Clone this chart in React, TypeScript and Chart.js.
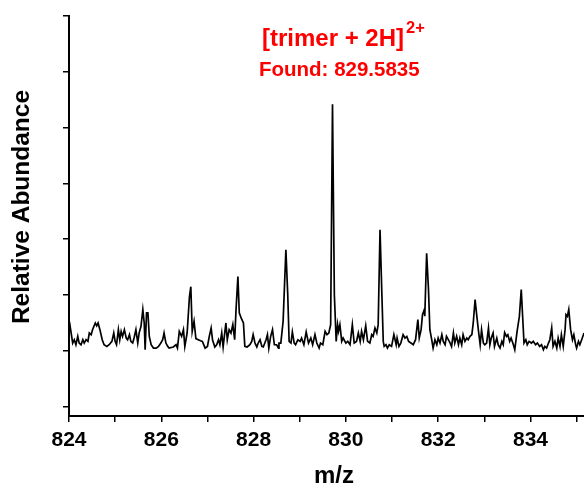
import React, { useEffect, useRef } from "react";
import { Chart, registerables } from "chart.js";

Chart.register(...registerables);

// m/z axis range and tick labels
const xMin = 824;
const xMax = 835.16;
const xTickValues = [824, 825, 826, 827, 828, 829, 830, 831, 832, 833, 834, 835];
const yTickValues = [-10, 0, 10, 20, 30, 40, 50, 60];
const yMin = -11.67;
const yMax = 60;

// spectrum trace (m/z)
const mzValues = [
  824.01, 824.08, 824.115, 824.15, 824.19, 824.22, 824.26, 824.30, 824.33, 824.37,
  824.41, 824.44, 824.48, 824.51, 824.57, 824.60, 824.63, 824.67, 824.72, 824.76,
  824.82, 824.87, 824.93, 824.97, 825.00, 825.03, 825.07, 825.10, 825.13, 825.16,
  825.20, 825.24, 825.27, 825.31, 825.34, 825.38, 825.41, 825.45, 825.49, 825.52,
  825.56, 825.60, 825.63, 825.65, 825.68, 825.71, 825.74, 825.78, 825.83, 825.89,
  825.94, 825.99, 826.03, 826.06, 826.10, 826.14, 826.17, 826.26, 826.32, 826.35,
  826.39, 826.44, 826.48, 826.51, 826.56, 826.61, 826.64, 826.67, 826.71, 826.75,
  826.80, 826.85, 826.89, 826.95, 827.00, 827.04, 827.08, 827.11, 827.16, 827.20,
  827.24, 827.27, 827.31, 827.34, 827.40, 827.43, 827.47, 827.51, 827.55, 827.59,
  827.62, 827.66, 827.69, 827.73, 827.78, 827.81, 827.86, 827.92, 827.96, 827.99,
  828.03, 828.07, 828.10, 828.14, 828.18, 828.21, 828.27, 828.30, 828.33, 828.37,
  828.41, 828.45, 828.50, 828.54, 828.55, 828.59, 828.64, 828.70, 828.74, 828.77,
  828.81, 828.84, 828.88, 828.91, 828.96, 829.01, 829.04, 829.09, 829.14, 829.19,
  829.24, 829.28, 829.33, 829.37, 829.42, 829.45, 829.50, 829.55, 829.59, 829.63,
  829.67, 829.71, 829.75, 829.79, 829.82, 829.84, 829.87, 829.91, 829.94, 830.00,
  830.04, 830.09, 830.14, 830.18, 830.23, 830.27, 830.31, 830.34, 830.38, 830.43,
  830.47, 830.52, 830.56, 830.59, 830.63, 830.67, 830.70, 830.74, 830.78, 830.81,
  830.83, 830.87, 830.90, 830.94, 830.99, 831.04, 831.09, 831.11, 831.15, 831.19,
  831.24, 831.28, 831.32, 831.36, 831.41, 831.46, 831.51, 831.56, 831.59, 831.63,
  831.66, 831.70, 831.71, 831.75, 831.79, 831.82, 831.86, 831.89, 831.93, 831.97,
  832.00, 832.04, 832.08, 832.11, 832.15, 832.18, 832.22, 832.26, 832.29, 832.33,
  832.36, 832.40, 832.44, 832.47, 832.51, 832.54, 832.58, 832.62, 832.65, 832.69,
  832.73, 832.76, 832.80, 832.83, 832.87, 832.91, 832.94, 832.98, 833.01, 833.05,
  833.09, 833.12, 833.15, 833.19, 833.22, 833.27, 833.30, 833.34, 833.38, 833.41,
  833.44, 833.48, 833.51, 833.55, 833.58, 833.63, 833.66, 833.71, 833.76, 833.80,
  833.83, 833.86, 833.90, 833.93, 833.97, 834.02, 834.06, 834.11, 834.15, 834.20,
  834.24, 834.28, 834.31, 834.35, 834.39, 834.42, 834.46, 834.49, 834.53, 834.57,
  834.60, 834.64, 834.67, 834.71, 834.75, 834.77, 834.80, 834.83, 834.87, 834.91,
  834.94, 834.98, 835.00, 835.04, 835.07, 835.11, 835.16, 835.20,
];

// spectrum trace (relative abundance)
const abundance = [
  5.2, 1.4, 2.0, 1.1, 2.6, 1.4, 1.1, 2.0, 1.4, 2.0,
  1.7, 3.2, 2.9, 3.8, 5.0, 4.5, 5.0, 3.8, 2.0, 1.1,
  0.8, 1.1, 1.7, 3.2, 1.7, 1.1, 3.8, 2.0, 3.5, 2.6,
  3.8, 2.3, 2.0, 2.9, 1.7, 1.4, 2.3, 3.8, 1.4, 3.2,
  4.4, 7.4, 5.0, 0.2, 6.8, 6.8, 2.6, 1.1, 0.5, 0.5,
  0.8, 1.4, 2.0, 3.2, 1.4, 0.8, 0.5, 0.7, 1.1, 0.5,
  3.5, 2.6, 3.8, 0.8, 3.2, 9.7, 11.5, 3.5, 5.3, 2.2,
  2.0, 1.8, 1.7, 0.5, 0.8, 2.6, 4.1, 2.0, 0.7, 1.1,
  2.0, 1.1, 3.2, 0.7, 5.0, 2.0, 3.8, 3.2, 4.7, 2.0,
  7.4, 13.3, 6.8, 5.9, 5.0, 0.8, 0.7, 1.1, 1.7, 2.9,
  1.4, 0.7, 1.4, 2.0, 0.8, 0.7, 2.0, 2.9, 0.5, 2.6,
  3.8, 1.1, 1.1, 0.5, 1.4, 1.4, 5.3, 18.1, 10.1, 1.7,
  1.4, 3.4, 1.4, 1.1, 2.0, 1.7, 2.3, 1.1, 3.4, 1.4,
  2.3, 1.1, 2.9, 1.4, 0.5, 1.4, 1.1, 3.5, 2.9, 3.2,
  4.7, 44.2, 10.1, 1.7, 4.7, 3.5, 4.7, 1.7, 2.3, 1.4,
  1.7, 1.1, 4.7, 1.4, 1.7, 3.2, 1.7, 3.5, 2.0, 4.5,
  1.7, 1.4, 2.9, 2.6, 4.1, 3.2, 4.7, 21.7, 10.1, 1.7,
  0.8, 1.1, 0.5, 1.1, 0.8, 2.9, 1.1, 2.3, 0.8, 1.4,
  2.9, 2.3, 2.6, 1.7, 1.4, 1.1, 2.0, 5.6, 2.3, 3.8,
  6.5, 7.4, 6.2, 17.5, 11.0, 3.8, 2.0, 0.5, 2.0, 1.1,
  2.3, 1.4, 2.9, 1.7, 1.1, 2.6, 2.0, 1.4, 0.8, 3.2,
  1.4, 2.6, 1.1, 2.3, 1.1, 2.9, 1.7, 2.3, 2.0, 2.6,
  2.9, 5.0, 9.2, 6.8, 3.8, 1.1, 3.8, 1.4, 1.1, 1.4,
  4.1, 1.1, 2.3, 3.2, 0.8, 2.3, 1.1, 0.5, 1.7, 1.1,
  3.3, 2.6, 2.9, 1.7, 2.3, 1.1, 0.2, 3.5, 6.2, 11.0,
  6.2, 1.4, 2.0, 1.1, 1.7, 1.4, 1.7, 1.1, 1.4, 0.8,
  1.1, 0.2, 0.8, 0.5, 1.4, 2.0, 4.1, 0.8, 1.7, 0.5,
  2.3, 0.8, 2.9, 0.8, 3.8, 6.5, 6.2, 7.4, 3.8, 2.0,
  2.9, 1.1, 0.5, 1.7, 1.1, 2.0, 3.2, 3.2,
];

const xTitle = "m/z";
const yTitle = "Relative Abundance";
const annotationMain = "[trimer + 2H]";
const annotationCharge = "2+";
const annotationFound = "Found: 829.5835";

const FONT = "'Liberation Sans', Arial, Helvetica, sans-serif";

const textPlugin = {
  id: "textPlugin",
  afterDraw(chart: any) {
    const ctx = chart.ctx as CanvasRenderingContext2D;
    ctx.save();
    ctx.fillStyle = "#000000";
    ctx.textBaseline = "middle";
    ctx.textAlign = "center";
    ctx.font = `bold 24px ${FONT}`;
    ctx.fillText(xTitle, 334, 476);
    ctx.save();
    ctx.translate(22, 207);
    ctx.rotate(-Math.PI / 2);
    ctx.font = `bold 24.5px ${FONT}`;
    ctx.fillText(yTitle, 0, 0);
    ctx.restore();

    ctx.fillStyle = "#ff0000";
    ctx.textAlign = "left";
    ctx.textBaseline = "alphabetic";
    ctx.font = `bold 24px ${FONT}`;
    ctx.fillText(annotationMain, 262, 46);
    ctx.font = `bold 16.5px ${FONT}`;
    ctx.fillText(annotationCharge, 406, 33);
    ctx.font = `bold 20.5px ${FONT}`;
    ctx.fillText(annotationFound, 259, 76);
    ctx.restore();
  },
};

export default function App() {
  const ref = useRef<HTMLCanvasElement | null>(null);

  useEffect(() => {
    if (!ref.current) return;
    const points = mzValues.map((x, i) => ({ x, y: abundance[i] }));
    const chart = new Chart(ref.current, {
      type: "line",
      data: {
        datasets: [
          {
            data: points,
            borderColor: "#000000",
            borderWidth: 1.7,
            pointRadius: 0,
            tension: 0,
            fill: false,
          },
        ],
      },
      options: {
        animation: false,
        responsive: false,
        maintainAspectRatio: false,
        layout: { padding: { top: 16, right: 0, left: 0, bottom: 0 } },
        plugins: {
          legend: { display: false },
          tooltip: { enabled: false },
          title: { display: false },
        },
        scales: {
          x: {
            type: "linear",
            min: xMin,
            max: xMax,
            afterBuildTicks: (scale: any) => {
              scale.ticks = xTickValues.map((v) => ({ value: v }));
            },
            afterFit: (scale: any) => {
              scale.height = 70;
            },
            ticks: {
              autoSkip: false,
              maxRotation: 0,
              includeBounds: false,
              padding: 6,
              color: "#000000",
              font: { family: FONT, weight: "bold", size: 21 },
              callback: (v: any) => (Number(v) % 2 === 0 ? String(v) : ""),
            },
            grid: {
              drawOnChartArea: false,
              drawTicks: true,
              tickLength: 6,
              color: "#000000",
              lineWidth: 1.5,
            },
            border: { display: true, color: "#000000", width: 2 },
          },
          y: {
            type: "linear",
            min: yMin,
            max: yMax,
            afterBuildTicks: (scale: any) => {
              scale.ticks = yTickValues.map((v) => ({ value: v }));
            },
            afterFit: (scale: any) => {
              scale.width = 69;
            },
            ticks: {
              includeBounds: false,
              callback: () => "",
            },
            grid: {
              drawOnChartArea: false,
              drawTicks: true,
              tickLength: 6,
              color: "#000000",
              lineWidth: 1.5,
            },
            border: { display: true, color: "#000000", width: 2 },
          },
        },
      },
      plugins: [textPlugin],
    } as any);
    return () => chart.destroy();
  }, []);

  return (
    <div style={{ position: "fixed", left: 0, top: 0, width: 584, height: 486, background: "#ffffff" }}>
      <canvas ref={ref} width={584} height={486} style={{ display: "block" }} />
    </div>
  );
}
